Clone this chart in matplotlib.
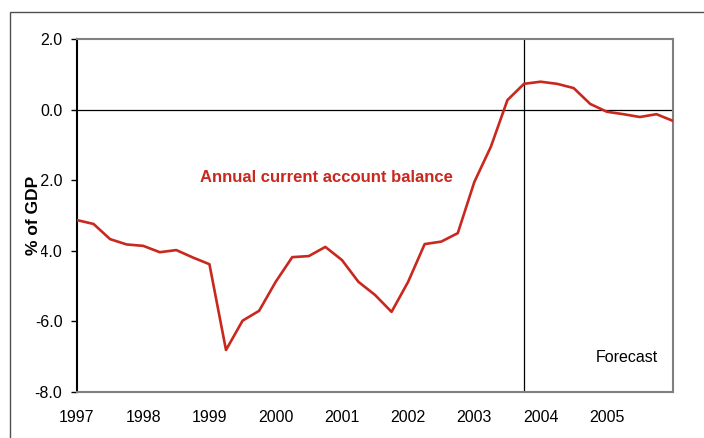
import matplotlib
matplotlib.use("Agg")
import matplotlib.pyplot as plt
from matplotlib.patches import Rectangle
import numpy as np

plt.rcParams['font.family'] = ['Liberation Sans', 'DejaVu Sans']
plt.rcParams['axes.unicode_minus'] = False

# Quarterly data, 1997 Q1 .. 2006 Q1 (start of quarter positions)
start_year = 1997
balance = [-3.13, -3.24, -3.67, -3.82, -3.86, -4.04, -3.98, -4.19, -4.38,
           -6.81, -5.98, -5.70, -4.88, -4.18, -4.15, -3.89, -4.26, -4.88,
           -5.25, -5.73, -4.88, -3.81, -3.74, -3.50, -2.05, -1.05, 0.27,
           0.73, 0.79, 0.73, 0.61, 0.16, -0.06, -0.13, -0.21, -0.13, -0.32]
year_labels = ['1997', '1998', '1999', '2000', '2001', '2002', '2003', '2004', '2005']
y_ticks = [-8.0, -6.0, -4.0, -2.0, 0.0, 2.0]
forecast_start = 2003.75

x = start_year + np.arange(len(balance)) / 4.0

fig = plt.figure(figsize=(7.04, 4.38), dpi=100)
ax = fig.add_axes([77/704, 1-392/438, (673-77)/704, (392-39)/438])

# figure frame
fig.patches.append(Rectangle((10/704, -0.05), 1.0, 1-12/438+0.05, transform=fig.transFigure,
                             fill=False, edgecolor='#505050', linewidth=1.0))

ax.plot(x, balance, color='#C8281E', linewidth=1.9, zorder=3)
ax.axhline(0, color='black', linewidth=0.9, zorder=2)
ax.axvline(forecast_start, color='black', linewidth=0.9, zorder=2)

ax.set_xlim(1997, 2006)
ax.set_ylim(-8, 2)
ax.set_yticks(y_ticks)
ax.set_yticklabels([f"{v:.1f}" for v in y_ticks], fontsize=11.5)
ax.set_xticks([int(l) for l in year_labels])
ax.set_xticklabels(year_labels, fontsize=11.5)
ax.tick_params(axis='x', length=0, pad=13)
ax.tick_params(axis='y', length=4, width=1, color='black', pad=6.5, direction='out')

for s in ['top', 'right', 'bottom']:
    ax.spines[s].set_color('#808080')
    ax.spines[s].set_linewidth(1.5)
ax.spines['left'].set_color('black')
ax.spines['left'].set_linewidth(1.5)

ax.set_ylabel('% of GDP', fontsize=12.5, fontweight='bold',
              bbox=dict(facecolor='white', edgecolor='none', pad=0.3))
ax.yaxis.set_label_coords(-36/596, (392-215)/353)

t1 = ax.text(0, 0, 'Annual current account balance', transform=None,
             fontsize=12, fontweight='bold', color='#C8281E', ha='center', va='center')
t1.set_position((326, 438-178))
t2 = ax.text(0, 0, 'Forecast', fontsize=11.5, color='black', ha='center', va='center',
             transform=None)
t2.set_position((626.5, 438-357.5))

fig.savefig('out.png', dpi=100)
